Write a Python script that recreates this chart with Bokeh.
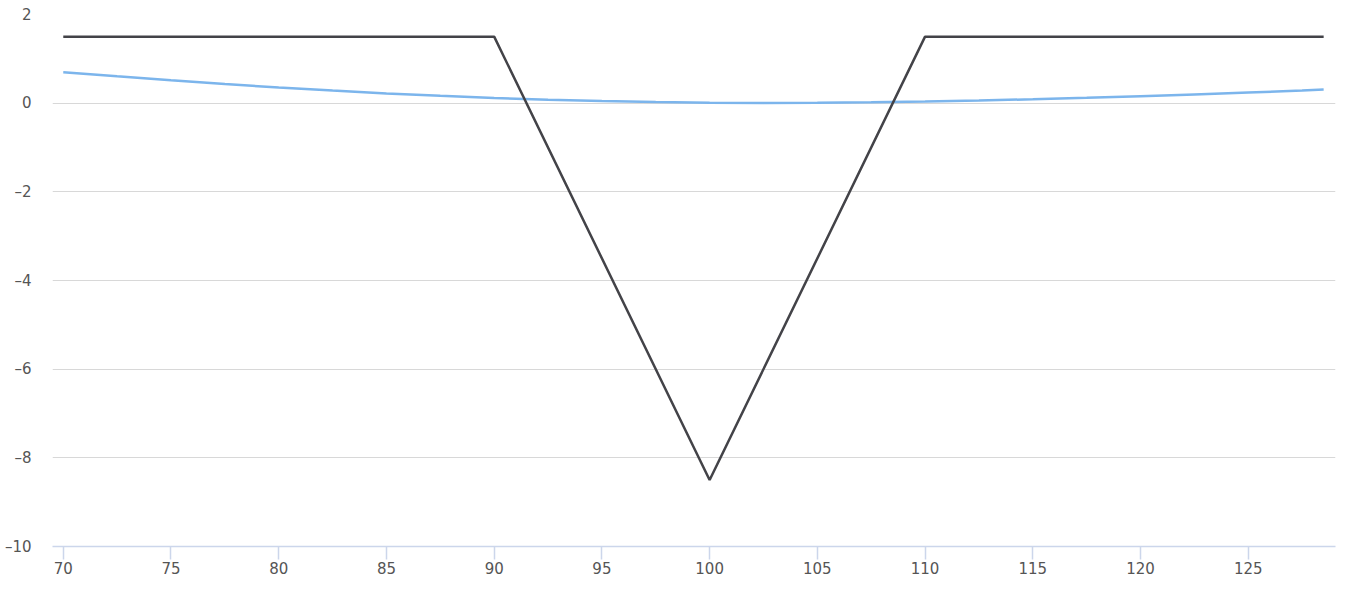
from bokeh.plotting import figure
from bokeh.models import Range1d, FixedTicker, CustomJSTickFormatter
from bokeh.embed import file_html
from bokeh.resources import INLINE

# Data
payoff_x = [70, 90, 100, 110, 128.5]
payoff_y = [1.5, 1.5, -8.5, 1.5, 1.5]

value_x = [70, 72.5, 75, 77.5, 80, 82.5, 85, 87.5, 90, 92.5, 95, 97.5, 100,
           102.5, 105, 107.5, 110, 112.5, 115, 117.5, 120, 122.5, 125, 127.5, 128.5]
value_y = [0.70, 0.605, 0.515, 0.43, 0.355, 0.285, 0.22, 0.165, 0.115, 0.078, 0.048, 0.026, 0.012,
           0.006, 0.01, 0.02, 0.037, 0.06, 0.088, 0.12, 0.157, 0.197, 0.24, 0.285, 0.31]

x_ticks = [70, 75, 80, 85, 90, 95, 100, 105, 110, 115, 120, 125]
y_ticks = [-10, -8, -6, -4, -2, 0, 2]

p = figure(width=1350, height=590, output_backend="svg", toolbar_location=None,
           x_range=Range1d(69.5, 129.05), y_range=Range1d(-10, 2),
           min_border_left=52, min_border_right=15, min_border_top=14, min_border_bottom=44)
p.outline_line_color = None
p.background_fill_color = "white"
p.border_fill_color = "white"

p.line(value_x, value_y, line_color="#7cb5ec", line_width=2.5)
p.line(payoff_x, payoff_y, line_color="#434348", line_width=2.5)

FONT = "DejaVu Sans"

# x axis
xa = p.xaxis[0]
xa.ticker = FixedTicker(ticks=x_ticks)
xa.axis_line_color = "#ccd6eb"
xa.axis_line_width = 1.5
xa.major_tick_line_color = "#ccd6eb"
xa.major_tick_line_width = 1.5
xa.major_tick_out = 13
xa.major_tick_in = 0
xa.minor_tick_line_color = None
xa.major_label_standoff = 2
xa.major_label_text_font = FONT
xa.major_label_text_font_size = "15px"
xa.major_label_text_color = "#555555"

# y axis
ya = p.yaxis[0]
ya.ticker = FixedTicker(ticks=y_ticks)
ya.formatter = CustomJSTickFormatter(code="return tick < 0 ? '\\u2013' + Math.abs(tick) : String(tick);")
ya.axis_line_color = None
ya.major_tick_line_color = None
ya.minor_tick_line_color = None
ya.major_tick_out = 0
ya.major_tick_in = 0
ya.major_label_standoff = 21
ya.major_label_text_font = FONT
ya.major_label_text_font_size = "15px"
ya.major_label_text_color = "#555555"

p.xgrid.grid_line_color = None
p.ygrid.grid_line_color = "#d8d8d8"
p.ygrid.grid_line_width = 1

open("out.html", "w").write(file_html(p, INLINE))
